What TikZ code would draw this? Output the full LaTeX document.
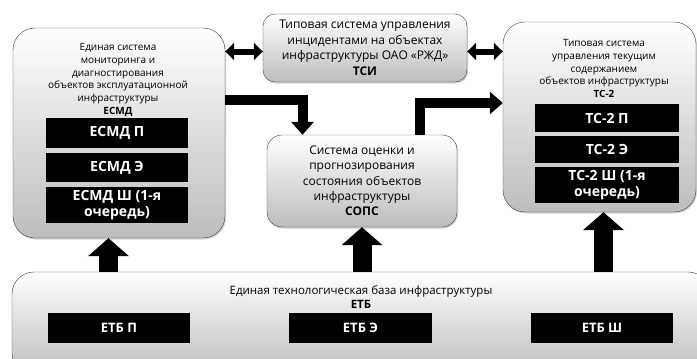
\documentclass[tikz,border=0pt]{standalone}
\usepackage{fontspec}
\setmainfont{Open Sans}
\usetikzlibrary{arrows.meta,shadows}

\begin{document}
\begin{tikzpicture}[x=1pt,y=-1pt]
	\tikzstyle{system}=[draw=black!75,rounded corners=22pt,top color=white,bottom color=black!26,drop shadow={opacity=0.35,shadow xshift=1pt,shadow yshift=-1.5pt}]
	\tikzstyle{part}=[fill=black,text=white,font=\bfseries\fontsize{14}{16}\selectfont,align=center,inner sep=0pt]
	\tikzstyle{title}=[align=center,inner sep=0pt,font=\fontsize{10}{12.8}\selectfont]
	\tikzstyle{uplink}=[line width=19pt,-{Triangle[length=18pt,width=40pt]}]
	\tikzstyle{flow}=[line width=10pt,-{Triangle[length=13pt,width=22pt]}]
	\tikzstyle{link}=[line width=6pt,{Triangle[length=9pt,width=17pt]}-{Triangle[length=9pt,width=17pt]}]
	\useasboundingbox (0,0) rectangle (697,359);
	\begin{scope}
		% ЕСМД
		\node [system,minimum width=212pt,minimum height=210pt] (esmd) at (119,133) {};
		\node [title] (esmdt) at (118,80) {Единая система\\мониторинга и\\диагностирования\\объектов эксплуатационной\\инфраструктуры\\\textbf{ЕСМД}};
		\node [part,minimum width=142pt,minimum height=30pt] (esmdp) at (117,133) {ЕСМД П};
		\node [part,minimum width=142pt,minimum height=29pt] (esmde) at (117,167.5) {ЕСМД Э};
		\node [part,minimum width=142pt,minimum height=36pt] (esmdsh) at (117,205) {ЕСМД Ш (1-я\\очередь)};
		% ТСИ
		\node [system,rounded corners=12pt,minimum width=204pt,minimum height=68pt,align=center,font=\fontsize{12}{15.5}\selectfont] (tsi) at (365,48) {Типовая система управления\\инцидентами на объектах\\инфраструктуры ОАО «РЖД»\\\textbf{ТСИ}};
		% СОПС
		\node [system,rounded corners=15pt,minimum width=190pt,minimum height=92pt,align=center,font=\fontsize{12}{15.3}\selectfont] (sops) at (362,181) {Система оценки и\\прогнозирования\\состояния объектов\\инфраструктуры\\\textbf{СОПС}};
		% ТС-2
		\node [system,minimum width=193pt,minimum height=190pt] (ts2) at (599.5,117) {};
		\node [title,font=\fontsize{10}{12.75}\selectfont] (ts2t) at (604,68.5) {Типовая система\\управления текущим\\содержанием\\объектов инфраструктуры\\\textbf{ТС-2}};
		\node [part,minimum width=144pt,minimum height=28pt] (ts2p) at (607,118) {ТС-2 П};
		\node [part,minimum width=144pt,minimum height=27pt] (ts2e) at (607,149.5) {ТС-2 Э};
		\node [part,minimum width=144pt,minimum height=36pt] (ts2sh) at (607,185) {ТС-2 Ш (1-я\\очередь)};
		% ЕТБ
		\node [system,minimum width=698pt,minimum height=103pt] (etb) at (361,323.5) {};
		\node [title,font=\fontsize{11.5}{14}\selectfont] (etbt) at (361,297) {Единая технологическая база инфраструктуры\\\textbf{ЕТБ}};
		\node [part,font=\bfseries\fontsize{13}{15}\selectfont,minimum width=142pt,minimum height=30pt] (etbp) at (119,328) {ЕТБ П};
		\node [part,font=\bfseries\fontsize{13}{15}\selectfont,minimum width=143pt,minimum height=30pt] (etbe) at (360.5,328) {ЕТБ Э};
		\node [part,font=\bfseries\fontsize{13}{15}\selectfont,minimum width=142pt,minimum height=30pt] (etbsh) at (602,328) {ЕТБ Ш};
		% связи
		\coordinate (tsil) at ([yshift=-3.5pt]tsi.west);
		\coordinate (tsir) at ([yshift=-3.5pt]tsi.east);
		\draw [link] (esmd.east |- tsil) -- (tsil);
		\draw [link] (tsir) -- (ts2.west |- tsir);
		\draw [flow] ([yshift=33pt]esmd.east) -| ([xshift=-59.5pt]sops.north);
		\draw [flow] ([xshift=58pt]sops.north) |- ([yshift=14pt]ts2.west);
		\coordinate (esmdin) at ([xshift=-10.5pt]esmd.south);
		\coordinate (ts2in) at ([xshift=4pt]ts2.south);
		\draw [uplink] (etb.north -| esmdin) -- (esmdin);
		\draw [uplink] (etb.north -| sops.south) -- (sops.south);
		\draw [uplink] (etb.north -| ts2in) -- (ts2in);
	\end{scope}
\end{tikzpicture}
\end{document}
